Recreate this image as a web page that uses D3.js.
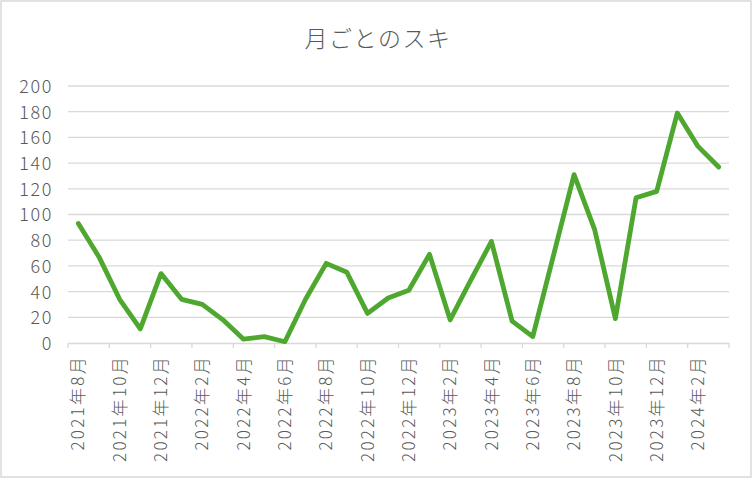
<!DOCTYPE html>
<html>
<head>
<meta charset="utf-8">
<script src="https://cdn.jsdelivr.net/npm/d3@7"></script>
<style>
  body { margin: 0; background: #fff; }
  svg text { font-family: "Noto Sans CJK JP", "Noto Sans", sans-serif; fill: #595959; font-weight: 300; }
</style>
</head>
<body>
<svg id="chart" width="753" height="480"></svg>
<script>
// monthly likes, 2021/8 .. 2024/3
var months = [
  "2021年8月", "2021年9月", "2021年10月", "2021年11月", "2021年12月",
  "2022年1月", "2022年2月", "2022年3月", "2022年4月", "2022年5月", "2022年6月",
  "2022年7月", "2022年8月", "2022年9月", "2022年10月", "2022年11月", "2022年12月",
  "2023年1月", "2023年2月", "2023年3月", "2023年4月", "2023年5月", "2023年6月",
  "2023年7月", "2023年8月", "2023年9月", "2023年10月", "2023年11月", "2023年12月",
  "2024年1月", "2024年2月", "2024年3月"
];
var likes = [93, 67, 34, 11, 54, 34, 30, 18, 3, 5, 1, 34, 62, 55, 23, 35, 41,
             69, 18, 49, 79, 17, 5, 68, 131, 88, 19, 113, 118, 179, 153, 137];
var yTicks = [0, 20, 40, 60, 80, 100, 120, 140, 160, 180, 200];
var title = "月ごとのスキ";

var svg = d3.select("#chart");

// chart border
svg.append("rect")
  .attr("x", 1).attr("y", 1)
  .attr("width", 750).attr("height", 476)
  .attr("fill", "#fff")
  .attr("stroke", "#d9d9d9")
  .attr("stroke-width", 1.5);

// note: "top" is taken by window.top, so plot edges get their own names
var plotLeft = 68, plotRight = 729, plotTop = 86, plotBottom = 343;

var x = d3.scaleBand().domain(months).range([plotLeft, plotRight]).padding(0);
var y = d3.scaleLinear().domain([0, 200]).range([plotBottom, plotTop]);

svg.append("text")
  .attr("x", 378).attr("y", 47)
  .attr("text-anchor", "middle")
  .style("font-size", "23px")
  .style("letter-spacing", "1.5px")
  .text(title);

// gridlines
svg.append("g")
  .selectAll("line")
  .data(yTicks.filter(function(d) { return d > 0; }))
  .enter().append("line")
  .attr("x1", plotLeft).attr("x2", plotRight)
  .attr("y1", function(d) { return y(d); })
  .attr("y2", function(d) { return y(d); })
  .attr("stroke", "#d9d9d9")
  .attr("stroke-width", 1.3);

// y axis labels
var yAxis = d3.axisLeft(y).tickValues(yTicks).tickSize(0).tickPadding(0);
var gy = svg.append("g").attr("transform", "translate(53,0)").call(yAxis);
gy.select(".domain").remove();
gy.selectAll("text")
  .style("font-size", "18px")
  .style("letter-spacing", "1.6px")
  .attr("dy", "0.36em");

// x axis, a label every two months
var tickMonths = months.filter(function(d, i) { return i % 2 == 0; });
var xAxis = d3.axisBottom(x).tickValues(tickMonths).tickSize(0).tickPadding(0);
var gx = svg.append("g").attr("transform", "translate(0," + plotBottom + ")").call(xAxis);
gx.select(".domain")
  .attr("stroke", "#d9d9d9")
  .attr("stroke-width", 1.3);
gx.selectAll("text")
  .style("font-size", "17px")
  .style("letter-spacing", "2.3px")
  .attr("text-anchor", "end")
  .attr("transform", "rotate(-90)")
  .attr("x", -12)
  .attr("y", 0)
  .attr("dy", "0.36em");

// tick marks sit on the category boundaries
var bounds = d3.range(0, months.length + 1, 2).map(function(i) { return plotLeft + i * x.bandwidth(); });
svg.append("g")
  .selectAll("line")
  .data(bounds)
  .enter().append("line")
  .attr("x1", function(d) { return d; }).attr("x2", function(d) { return d; })
  .attr("y1", plotBottom).attr("y2", plotBottom + 5)
  .attr("stroke", "#d9d9d9")
  .attr("stroke-width", 1.3);

var line = d3.line()
  .x(function(d, i) { return x(months[i]) + x.bandwidth() / 2; })
  .y(function(d) { return y(d); });

svg.append("path")
  .datum(likes)
  .attr("d", line)
  .attr("fill", "none")
  .attr("stroke", "#4ea72e")
  .attr("stroke-width", 4.8)
  .attr("stroke-linejoin", "round")
  .attr("stroke-linecap", "round");
</script>
</body>
</html>
